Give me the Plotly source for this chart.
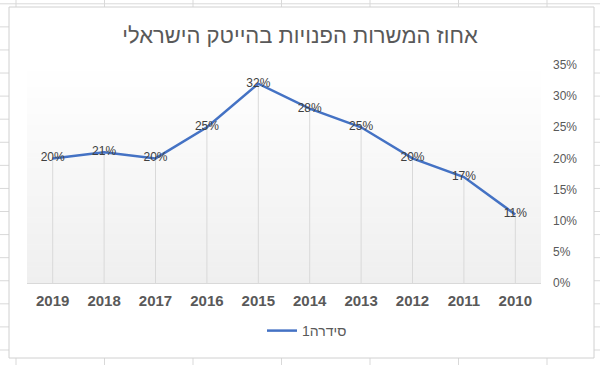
import plotly.graph_objects as go

# ---- data ----
years = ["2010", "2011", "2012", "2013", "2014", "2015", "2016", "2017", "2018", "2019"]
values = [11, 17, 20, 25, 28, 32, 25, 20, 21, 20]  # percent
series_name = "סידרה1"
title_text = "אחוז המשרות הפנויות בהייטק הישראלי"
y_ticks = [0, 5, 10, 15, 20, 25, 30, 35]
y_tick_text = [f"{t}%" for t in y_ticks]

W, H = 600, 365
L, R, T, B = 27, 59, 65, 82
PW, PH = W - L - R, H - T - B


def px_x(p):
    return (p - L) / PW


def px_y(p):
    return (H - B - p) / PH


FONT = "Liberation Sans, Arial, sans-serif"

shapes = []
# spreadsheet grid in the background
grid_col = "#d9d9d9"
for k in range(7):
    x = 16 + 88.5 * k
    shapes.append(dict(type="line", xref="paper", yref="paper", layer="below",
                       x0=px_x(x), x1=px_x(x), y0=px_y(-5), y1=px_y(370),
                       line=dict(color=grid_col, width=1)))
for k in range(17):
    y = 3.8 + 23.08 * k
    shapes.append(dict(type="line", xref="paper", yref="paper", layer="below",
                       x0=px_x(-5), x1=px_x(605), y0=px_y(y), y1=px_y(y),
                       line=dict(color=grid_col, width=1)))
# chart box
shapes.append(dict(type="rect", xref="paper", yref="paper", layer="below",
                   x0=px_x(9), x1=px_x(594), y0=px_y(358), y1=px_y(7),
                   fillcolor="white", line=dict(color="#d0d0d0", width=1)))
# plot-area gradient (white at top to light grey at bottom)
n = 40
for i in range(n):
    t = (i + 0.5) / n  # 0 at bottom
    c = int(round(0xef + (0xff - 0xef) * t))
    col = f"rgb({c},{c},{c})"
    shapes.append(dict(type="rect", xref="paper", yref="paper", layer="below",
                       x0=0, x1=1, y0=i / n, y1=(i + 1) / n + 0.002,
                       fillcolor=col, line=dict(width=0)))

# drop lines from each point to the axis
drop_x, drop_y = [], []
for yr, v in zip(years, values):
    drop_x += [yr, yr, None]
    drop_y += [v, 0, None]

fig = go.Figure()
fig.add_trace(go.Scatter(x=drop_x, y=drop_y, mode="lines",
                         line=dict(color="#d9d9d9", width=1),
                         hoverinfo="skip", showlegend=False))
fig.add_trace(go.Scatter(x=years, y=values, mode="lines+text", name=series_name,
                         text=[f"{v}%" for v in values], textposition="middle center",
                         textfont=dict(color="#404040", size=12, family=FONT),
                         line=dict(color="#4472C4", width=2.5)))

fig.update_layout(
    width=W, height=H,
    margin=dict(l=L, r=R, t=T, b=B, autoexpand=False),
    paper_bgcolor="white",
    plot_bgcolor="rgba(0,0,0,0)",
    shapes=shapes,
    title=dict(text=title_text, x=0.5, xref="container", xanchor="center",
               y=1 - 35 / H, yref="container", yanchor="middle",
               font=dict(family=FONT, size=22, color="#595959")),
    legend=dict(orientation="h", x=307 / W, xref="container", xanchor="center",
                y=1 - 331 / H, yref="container", yanchor="middle",
                font=dict(family=FONT, size=14, color="#595959"),
                bgcolor="rgba(0,0,0,0)"),
    font=dict(family=FONT, color="#595959"),
    showlegend=True,
)
fig.update_xaxes(type="category", categoryorder="array", categoryarray=years,
                 autorange="reversed", showgrid=False, zeroline=False,
                 showline=True, linecolor="#d9d9d9", linewidth=1, ticks="",
                 tickfont=dict(family=FONT, size=15, color="#595959", weight="bold"),
                 ticklabelstandoff=4)
fig.update_yaxes(side="right", range=[0, 35], tickmode="array",
                 tickvals=y_ticks, ticktext=y_tick_text,
                 showgrid=False, zeroline=False, showline=False, ticks="",
                 tickfont=dict(family=FONT, size=12, color="#595959"),
                 ticklabelstandoff=11)

fig.write_html("out.html", config={"displayModeBar": False},
               post_script="document.body.style.margin='0';")
